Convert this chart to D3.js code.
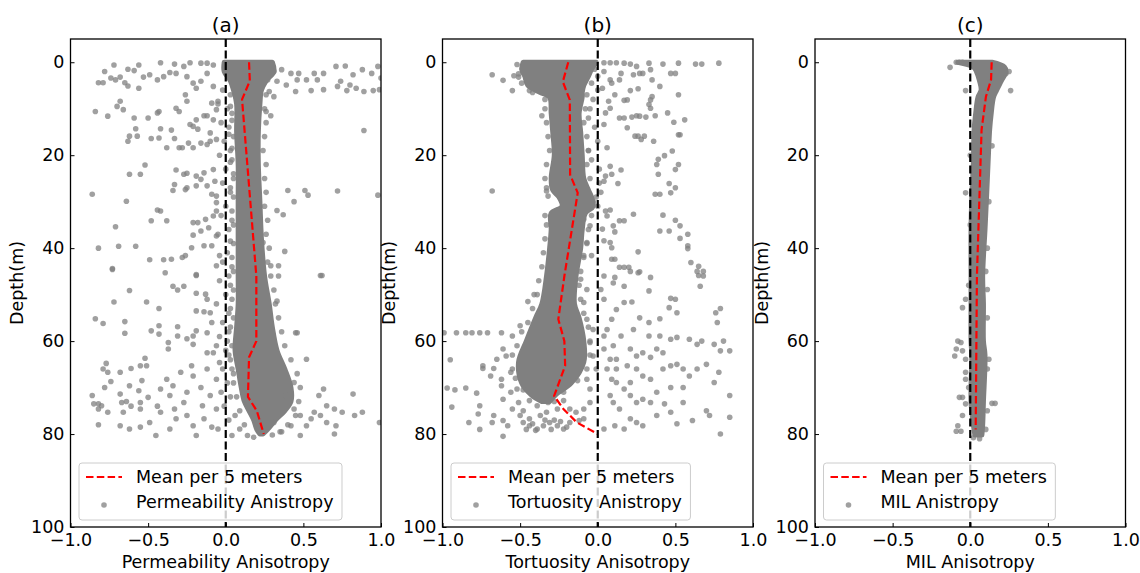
<!DOCTYPE html>
<html>
<head>
<meta charset="utf-8">
<script src="https://cdn.jsdelivr.net/npm/d3@7"></script>
<style>
  body { margin: 0; background: #fff; }
  svg { display: block; font-family: "DejaVu Sans", sans-serif; }
</style>
</head>
<body>
<div id="chart"></div>
<script>
// ---- data ----
const depthTicks = [0, 20, 40, 60, 80, 100];
const anisoTicks = [-1, -0.5, 0, 0.5, 1];
const panelTitles = ['(a)', '(b)', '(c)'];
const xLabels = ['Permeability Anisotropy', 'Tortuosity Anisotropy', 'MIL Anisotropy'];
const meanLabel = 'Mean per 5 meters';
const seriesLabels = ['Permeability Anistropy', 'Tortuosity Anistropy', 'MIL Anistropy'];

// mean per 5 m: depth, value
const meanDepthA = [0, 4, 8, 46, 60, 63.5, 72, 75, 80];
const meanA = [0.15, 0.155, 0.105, 0.197, 0.197, 0.15, 0.143, 0.2, 0.245];
const meanDepthB = [0, 4.2, 8.1, 24.2, 28.1, 46, 55.3, 60, 65.3, 71.8, 74.6, 77.5, 80];
const meanB = [-0.19, -0.225, -0.18, -0.178, -0.129, -0.215, -0.254, -0.215, -0.21, -0.281, -0.221, -0.135, 0.0];
const meanDepthC = [0, 3.8, 7.4, 14.5, 46, 79];
const meanC = [0.138, 0.134, 0.101, 0.073, 0.043, 0.035];

// dense core of the point cloud: [depth, low, high]
const coreA = [[0,-0.01,0.3],[2,-0.01,0.31],[4,0.03,0.26],[6,0.05,0.23],[9,0.07,0.22],[15,0.07,0.21],[22,0.08,0.21],[30,0.08,0.22],[38,0.08,0.23],[46,0.08,0.25],[52,0.08,0.28],[57,0.07,0.3],[62,0.06,0.33],[66,0.08,0.38],[70,0.1,0.42],[73,0.12,0.42],[75,0.15,0.38],[77,0.18,0.32],[79,0.2,0.27],[80,0.22,0.24]];
const coreB = [[0,-0.48,-0.01],[1.5,-0.49,-0.04],[3,-0.47,-0.06],[5,-0.45,-0.09],[6.5,-0.37,-0.1],[7.5,-0.31,-0.1],[11,-0.3,-0.12],[15,-0.29,-0.11],[20,-0.28,-0.1],[25,-0.3,-0.09],[27.5,-0.29,-0.06],[29,-0.25,-0.04],[31,-0.23,-0.03],[32.5,-0.3,-0.08],[36,-0.3,-0.1],[40,-0.31,-0.11],[46,-0.33,-0.14],[52,-0.36,-0.15],[55,-0.4,-0.12],[60,-0.46,-0.09],[64.5,-0.51,-0.09],[69,-0.49,-0.17],[71.5,-0.43,-0.27],[73,-0.36,-0.31]];
const coreC = [[0,-0.08,0.14],[1,0.02,0.22],[2,0.04,0.23],[4,0.06,0.2],[6,0.07,0.17],[7.5,0.05,0.15],[11,0.035,0.135],[14.5,0.025,0.125],[21.5,0.02,0.115],[29,0.01,0.105],[36,0.005,0.095],[46,0.005,0.08],[52,0.005,0.085],[60,0.005,0.085],[63,0.01,0.095],[73,0.005,0.085],[78,0.02,0.08],[80.2,0.03,0.075]];

// scattered points: [value, depth]
const pointsA = [
[-0.72,0.6],[-0.56,0.6],[-0.42,0.1],[-0.33,0.4],[-0.23,0.1],[-0.16,0.2],[-0.12,0.2],[-0.08,0.6],
[-0.78,2.0],[-0.82,4.4],[-0.79,4.4],[-0.74,3.4],[-0.71,3.8],[-0.68,3.2],[-0.65,4.4],[-0.63,1.5],[-0.59,1.8],[-0.53,3.2],[-0.49,2.7],[-0.44,3.8],[-0.40,3.1],[-0.36,2.2],[-0.32,2.4],[-0.27,0.9],[-0.25,3.1],[-0.21,4.5],[-0.16,4.1],[-0.12,2.4],[-0.19,5.6],[-0.08,5.2],[-0.56,5.6],[-0.63,5.1],
[0.31,2.0],[0.36,1.6],[0.42,2.4],[0.47,2.4],[0.52,3.8],[0.57,2.4],[0.63,2.4],[0.71,0.9],[0.77,0.8],[0.82,2.7],[0.88,1.6],[0.94,2.4],[0.98,0.9],[1.0,3.4],[0.33,4.1],[0.39,4.9],[0.45,6.3],[0.55,6.1],[0.63,5.9],[0.72,5.2],[0.78,6.1],[0.84,5.6],[0.89,6.3],[0.95,6.1],[0.99,5.9],[0.27,3.8],[0.46,3.8],[0.59,3.8],[0.74,4.1],[0.80,4.9],
[-0.84,10.6],[-0.76,11.6],[-0.70,9.5],[-0.68,8.4],[-0.66,10.2],[-0.59,12.0],[-0.50,12.0],[-0.44,10.9],[-0.43,10.6],[-0.32,9.9],[-0.30,10.6],[-0.25,8.4],[-0.26,7.0],
[-0.58,14.3],[-0.62,15.9],[-0.63,17.0],[-0.57,15.9],[-0.48,16.4],[-0.43,16.3],[-0.42,14.3],[-0.35,14.6],[-0.33,16.4],[-0.38,18.4],[-0.30,18.4],[-0.28,18.4],[-0.23,13.4],[-0.21,13.8],[-0.18,14.4],[-0.14,11.5],[-0.12,11.5],[-0.19,12.4],[-0.24,17.4],[-0.21,18.4],[-0.16,17.4],[-0.12,17.7],[-0.10,17.0],[-0.06,16.6],[-0.10,15.2],[-0.08,12.4],[-0.06,10.2],[-0.09,8.8],[-0.05,8.4],
[-0.52,22.1],[-0.62,24.1],[-0.55,24.1],[-0.27,24.1],[-0.25,23.9],[-0.32,23.2],[-0.33,26.3],[-0.34,27.6],[-0.26,27.4],[-0.25,27.0],[-0.19,24.5],[-0.14,23.8],[-0.16,25.2],[-0.19,26.6],[-0.12,26.6],[-0.07,25.6],[-0.08,23.1],[-0.06,28.8],[-0.09,28.4],[-0.06,30.2],
[-0.86,28.4],[-0.64,29.9],[-0.44,31.8],[-0.42,32.0],[-0.48,34.1],[-0.38,34.1],[-0.71,35.4],[-0.21,34.5],[-0.18,34.5],[-0.21,37.2],[-0.16,36.3],[-0.13,33.8],[-0.11,35.6],[-0.08,33.1],[-0.06,32.0],
[-0.82,40.0],[-0.69,39.6],[-0.58,39.6],[-0.22,39.9],[-0.14,39.5],[-0.09,39.5],[-0.06,37.4],
[0.89,14.7],[0.40,27.6],[0.51,27.6],[0.53,28.6],[0.72,27.7],[0.98,28.6],[0.44,30.0],[0.33,31.9],[0.37,32.8],[0.38,40.7],
[-0.73,44.4],[-0.49,42.5],[-0.40,42.5],[-0.35,42.4],[-0.28,42.0],[-0.26,41.6],[-0.19,45.9],[-0.06,43.8],[-0.04,41.6],[0.29,43.8],[0.34,43.8],[0.61,45.9],[0.24,38.8],[0.29,11.5],[0.26,10.6],[0.31,7.4],[0.28,6.3],
[-0.73,44.6],[-0.39,45.3],[-0.19,45.7],[-0.34,48.2],[-0.27,48.2],[-0.31,49.0],[-0.62,49.1],[-0.19,49.7],[-0.13,49.9],[-0.12,51.0],[-0.72,51.6],[-0.51,51.6],[-0.43,53.0],[-0.19,53.5],[-0.14,53.7],[-0.10,53.9],
[-0.84,55.2],[-0.79,56.2],[-0.65,55.8],[-0.65,58.3],[-0.48,57.8],[-0.43,56.7],[-0.43,58.5],[-0.37,60.3],[-0.37,61.7],[-0.31,56.9],[-0.31,58.9],[-0.25,59.5],[-0.21,58.9],[-0.21,60.7],[-0.19,57.8],[-0.12,58.2],[-0.09,56.0],[-0.06,61.0],[-0.08,62.5],[-0.12,62.5],
[-0.52,63.7],[-0.55,65.3],[-0.51,65.3],[-0.61,65.9],[-0.68,66.7],[-0.77,64.8],[-0.79,66.0],[-0.76,66.7],[-0.74,68.7],[-0.78,70.0],[-0.86,71.7],[-0.85,73.5],[-0.82,73.5],[-0.82,74.6],[-0.80,73.9],[-0.76,75.3],[-0.68,71.4],[-0.67,73.2],[-0.66,75.3],[-0.64,73.0],[-0.62,69.6],[-0.61,74.0],[-0.56,70.7],[-0.55,73.2],[-0.55,74.6],[-0.54,68.5],[-0.50,72.1],[-0.49,77.5],[-0.55,78.5],[-0.62,78.9],[-0.68,78.2],[-0.82,78.0],[-0.45,80.3],[-0.44,74.0],[-0.42,70.3],[-0.42,75.3],[-0.38,68.2],[-0.36,71.7],[-0.34,69.6],[-0.33,74.6],[-0.32,76.7],[-0.36,78.9],[-0.29,66.7],[-0.27,73.2],[-0.25,71.0],[-0.25,76.0],[-0.22,65.3],[-0.21,67.5],[-0.21,78.2],[-0.19,80.3],[-0.16,70.0],[-0.15,73.9],[-0.14,76.7],[-0.12,66.0],[-0.10,71.7],[-0.09,78.5],[-0.06,68.2],[-0.06,74.6],[-0.05,78.9],[-0.04,64.6],[-0.03,71.0],
[0.04,80.3],[0.09,78.9],[0.14,80.3],[0.18,80.7],[0.52,78.2],[0.48,80.3],[0.57,75.3],[0.60,71.7],[0.63,70.3],[0.65,73.9],[0.70,74.6],[0.71,78.2],[0.75,75.3],[0.70,80.0],[0.82,71.4],[0.83,76.0],[0.88,75.3],[0.99,77.5],[0.52,63.9],[0.44,68.9],[0.45,58.2],[0.46,58.2],[0.33,51.4],[0.34,46.0],[0.62,45.9],[0.39,71.7],[0.44,74.6],[0.48,76.0],[0.42,78.2],[0.35,79.5],[0.31,77.5],[0.55,76.7],[0.61,76.0],[0.65,77.5],
[-0.02,6],[0.03,7],[-0.05,9],[0.01,10],[0.04,11],[-0.03,13],[0.02,14],[0.05,16],[-0.01,17],[0.03,19],[-0.04,20],[0.04,21],[0.0,23],[0.05,24],[-0.02,26],[0.03,27],[0.05,29],[0.0,31],[-0.03,33],[0.04,34],[0.02,36],[-0.05,37],[0.05,39],[0.01,41],[-0.02,43],[0.04,44],[0.02,46],[-0.04,47],[0.05,49],[0.0,50],[-0.06,52],[0.03,53],[0.05,55],[-0.02,56],[0.02,58],[-0.04,59],[0.04,61],[0.0,62],[0.03,64],[-0.02,66],[0.05,67],[0.01,69],[0.03,72],[-0.01,74],[0.06,76],[0.02,77],
[0.03,9.5],[0.04,12.5],[0.02,15.5],[0.04,18.5],[0.03,21.5],[0.05,25],[0.03,28],[0.04,32],[0.05,35],[0.03,38.5],[0.04,42],[0.05,45],[0.03,48],[0.04,51],[0.02,54],[0.03,57],[0.01,60],[0.02,63],[0.04,66],[0.05,69],[0.07,72],[0.09,75],[0.12,78],
[0.26,7],[0.25,10],[0.26,13],[0.25,16],[0.24,19],[0.26,22],[0.25,25],[0.26,28],[0.25,31],[0.27,34],[0.26,37],[0.28,40],[0.27,43],[0.29,46],[0.31,49],[0.32,52],[0.34,55],[0.36,58],[0.38,61],[0.42,64],[0.46,67],[0.48,70],[0.47,73],[0.45,76],[0.40,78],[0.36,79.5],[0.30,80.2]
];

const pointsB = [
[-0.68,2.7],[-0.61,3.9],[-0.55,6.1],[-0.54,2.9],[-0.51,3.2],[-0.44,6.1],[-0.36,11.5],[-0.68,27.7],[-0.33,27.7],[-0.32,28.8],
[0.04,0.1],[0.08,0.1],[0.12,0.1],[0.17,0.2],[0.21,0.4],[0.25,0.9],[0.33,0.2],[0.42,0.4],[0.52,0.2],[0.63,0.4],[0.67,0.4],[0.78,0.2],
[0.04,2.0],[0.08,3.8],[0.03,5.6],[0.09,4.5],[0.14,3.8],[0.15,2.4],[0.23,2.7],[0.27,2.4],[0.29,2.4],[0.34,1.6],[0.35,3.8],[0.47,2.4],[0.50,2.4],[0.40,5.2],[0.26,5.7],[0.21,6.1],[0.11,7.0],[0.17,8.2],[0.19,8.1],[0.34,8.1],[0.35,7.4],[0.52,7.0],[0.07,8.4],[0.08,9.9],[0.05,10.9],[0.04,13.4],[0.14,12.0],[0.17,12.0],[0.22,11.8],[0.25,11.5],[0.27,11.6],[0.31,11.8],[0.33,9.1],[0.34,9.9],[0.37,11.5],[0.45,10.9],[0.49,12.9],[0.56,12.4],[0.52,15.6],[0.53,15.6],[0.19,14.1],[0.24,15.9],[0.26,15.9],[0.28,16.6],[0.30,15.9],[0.36,17.0],[0.43,20.1],[0.48,19.1],[0.39,20.9],[0.38,22.0],[0.52,22.0],[0.50,23.1],[0.08,22.4],[0.09,24.1],[0.06,18.4],[0.15,23.2],[0.05,24.5],[0.04,25.6],[0.13,26.1],[0.39,24.1],[0.46,26.1],[0.50,27.0],[0.37,28.4],[0.40,28.4],[0.47,28.1],
[0.08,31.8],[0.05,32.0],[0.14,34.1],[0.17,34.1],[0.23,32.7],[0.10,35.2],[0.11,36.5],[0.42,32.9],[0.50,34.0],[0.53,35.2],[0.58,37.0],[0.40,36.3],[0.46,36.3],[0.53,37.9],[0.26,40.8],[0.58,40.1],[0.58,39.5],[0.08,38.8],[0.09,39.9],[0.09,42.4],[0.11,42.4],[-0.04,41.6],[-0.09,41.6],[0.14,44.1],[0.17,44.1],[0.20,44.1],[0.27,45.1],[0.34,46.3],[0.60,43.1],[0.65,43.9],[0.68,45.0],[0.65,45.9],[0.11,46.3],[0.06,33.1],[0.03,35.9],[0.04,38.4],[-0.05,35.2],[-0.07,38.8],[-0.12,37.4],[-0.09,33.8],
[-0.05,10],[-0.02,14],[0.0,17],[-0.04,21],[0.01,26],[-0.03,30],[0.02,28],[-0.06,12],[0.0,6],[-0.03,8],[-0.06,19],[0.01,23],[-0.02,1.5],[0.0,3],[-0.04,4.5],
[-0.99,58.2],[-0.91,58.2],[-0.85,58.2],[-0.81,58.2],[-0.76,58.2],[-0.71,58.2],[-0.62,58.2],[-0.55,58.9],[-0.95,64.0],[-0.97,70.1],[-0.92,70.5],[-0.85,70.1],[-0.94,74.2],[-0.83,77.5],[-0.76,79.0],
[-0.74,65.3],[-0.74,65.9],[-0.78,71.2],[-0.76,73.9],[-0.77,75.7],[-0.68,77.5],[-0.67,76.0],[-0.69,67.5],[-0.67,65.9],[-0.65,63.9],[-0.61,61.7],[-0.59,63.2],[-0.62,68.2],[-0.62,69.6],[-0.61,72.5],[-0.61,77.1],[-0.61,80.5],[-0.56,66.7],[-0.56,71.0],[-0.55,74.6],[-0.58,78.2],[-0.52,70.3],[-0.51,73.2],[-0.50,76.0],[-0.45,51.5],[-0.50,56.7],[-0.41,50.0],
[-0.48,77.5],[-0.44,78.2],[-0.39,78.9],[-0.35,78.2],[-0.31,77.5],[-0.26,78.2],[-0.22,78.9],[-0.18,77.5],[-0.44,76.7],[-0.37,76.0],[-0.33,75.3],[-0.48,75.0],[-0.44,72.8],[-0.39,73.9],[-0.32,73.2],[-0.40,79.2],[-0.30,79.0],[-0.28,77.0],[-0.42,77.8],[-0.34,77.0],[-0.24,77.3],[-0.20,78.5],[-0.46,79.0],
[-0.26,74.6],[-0.22,72.8],[-0.18,74.6],[-0.14,75.3],[-0.09,74.6],[-0.09,76.7],[-0.12,77.1],[-0.05,73.2],[-0.05,70.3],[-0.07,68.2],[-0.01,66.0],[-0.03,63.2],[-0.05,60.3],[-0.03,57.5],[-0.07,55.3],[-0.09,51.7],[-0.07,48.9],[-0.11,46.7],
[0.04,61.7],[0.06,66.0],[0.09,68.2],[0.08,71.7],[0.10,73.2],[0.14,74.6],[0.11,78.2],[0.17,78.9],[0.04,78.9],
[0.17,48.2],[0.22,51.6],[0.27,55.0],[0.33,56.0],[0.40,55.2],[0.47,50.8],[0.50,51.0],[0.46,52.8],[0.51,53.9],[0.77,56.0],[0.76,53.9],[0.79,53.0],[0.66,48.2],[0.68,46.0],[0.64,45.0],[0.26,45.3],[0.33,49.2],[0.21,45.0],[0.10,47.5],[0.17,51.7],
[0.15,58.9],[0.21,61.7],[0.25,63.2],[0.29,62.5],[0.34,63.5],[0.38,61.7],[0.42,62.5],[0.47,59.6],[0.51,59.2],[0.40,58.9],[0.33,58.9],[0.59,59.6],[0.64,60.7],[0.67,60.0],[0.75,60.7],[0.81,60.0],[0.85,62.1],[0.79,62.1],[0.78,66.7],[0.75,68.9],[0.85,71.7],[0.85,76.4],[0.79,80.0],[0.72,76.0],[0.70,75.0],[0.61,77.1],[0.51,77.8],[0.47,75.3],[0.43,73.5],[0.38,76.0],[0.29,78.2],[0.25,77.5],[0.21,76.7],[0.25,73.2],[0.21,71.7],[0.17,70.3],[0.12,68.9],[0.21,68.9],[0.29,67.5],[0.34,68.2],[0.42,66.0],[0.47,65.3],[0.51,65.0],[0.55,66.0],[0.59,67.5],[0.64,66.0],[0.70,65.0],[0.55,70.0],[0.47,70.0],[0.38,71.0],[0.34,73.2],[0.29,72.5],[0.55,73.2],[0.12,66.0],[0.19,65.3],[0.25,66.0],[0.12,63.9],[0.08,63.9],[0.10,61.0],[0.04,58.9],[0.06,57.5],[0.09,55.3],[0.12,53.2],[0.04,51.0],[0.02,48.9],[0.04,46.0],[0.23,57.5],
[-0.52,0.5],[-0.51,2.5],[-0.49,4.5],[-0.42,6.5],[-0.34,8],[-0.34,10],[-0.33,13],[-0.32,16],[-0.31,19],[-0.33,22],[-0.34,25],[-0.33,27],[-0.34,33],[-0.33,35],[-0.34,38],[-0.35,41],[-0.36,44],[-0.38,47],[-0.39,50],[-0.42,53],[-0.45,56],[-0.49,58],[-0.52,61],[-0.55,63],[-0.55,66],[-0.53,68],[-0.48,70.5],
[-0.07,7],[-0.08,10],[-0.09,13],[-0.07,16],[-0.06,19],[-0.07,22],[-0.05,25],[-0.01,29],[0.0,31],[-0.04,33],[-0.06,36],[-0.07,39],[-0.09,42],[-0.11,45],[-0.12,48],[-0.11,51],[-0.09,54],[-0.06,57],[-0.05,60],[-0.05,63],[-0.07,66],[-0.13,68.5],[-0.22,71],[-0.28,73]
];

const pointsC = [
[-0.13,1.1],[-0.03,6.1],[0.26,6.1],[-0.03,28.1],[0.23,2.4],[0.25,2.0],[-0.09,0.0],[-0.07,0.0],[-0.05,0.0],
[-0.05,52.8],[-0.03,51.0],[-0.08,60.0],[-0.06,60.3],[-0.09,61.7],[-0.10,63.2],[-0.05,62.1],[-0.03,63.9],[-0.03,66.7],[-0.03,68.2],[-0.07,72.1],[-0.05,72.1],[-0.03,73.5],[-0.05,76.0],[-0.08,78.2],[-0.09,79.4],[-0.06,79.4],[0.14,73.4],[0.16,73.4],[0.12,63.9],[0.11,48.9],[0.10,45.0],
[0.0,20],[0.14,18],[0.0,35],[0.12,30],[0.11,40],[-0.01,48],[0.11,55],[0.11,66],[-0.01,70],[0.11,75],[0.1,79],[0.02,80.8],[0.06,81]
];

// ---- layout ----
const width = 1140;
const height = 573;
const plotTop = 39;
const plotBottom = 527;
const panelLeft = [70.5, 442.5, 815];
const panelWidth = 310.5;
const fontSize = 17.5;
const grey = '#808080';

const panels = [
  { core: coreA, points: pointsA, meanDepth: meanDepthA, mean: meanA },
  { core: coreB, points: pointsB, meanDepth: meanDepthB, mean: meanB },
  { core: coreC, points: pointsC, meanDepth: meanDepthC, mean: meanC },
];

const svg = d3.select('#chart')
  .append('svg')
  .attr('width', width)
  .attr('height', height);

const y = d3.scaleLinear().domain([-5, 100]).range([plotTop, plotBottom]);

panels.forEach((p, i) => {
  const left = panelLeft[i];
  const x = d3.scaleLinear().domain([-1, 1]).range([left, left + panelWidth]);
  const g = svg.append('g');

  g.append('clipPath').attr('id', `clip${i}`)
    .append('rect')
    .attr('x', left).attr('y', plotTop)
    .attr('width', panelWidth).attr('height', plotBottom - plotTop);

  const plot = g.append('g').attr('clip-path', `url(#clip${i})`);

  // dense part of the cloud
  const area = d3.area()
    .y((d) => y(d[0]))
    .x0((d) => x(d[1]))
    .x1((d) => x(d[2]))
    .curve(d3.curveCatmullRom);

  plot.append('path')
    .datum(p.core)
    .attr('d', area)
    .attr('fill', grey)
    .attr('stroke', grey)
    .attr('stroke-width', 5)
    .attr('stroke-linejoin', 'round');

  // single points
  plot.selectAll('.pt')
    .data(p.points)
    .enter().append('circle')
    .attr('class', 'pt')
    .attr('cx', (d) => x(d[0]))
    .attr('cy', (d) => y(d[1]))
    .attr('r', 2.8)
    .attr('fill', grey)
    .attr('fill-opacity', 0.75);

  // mean line
  const meanPts = p.meanDepth.map((d, k) => [p.mean[k], d]);
  plot.append('path')
    .datum(meanPts)
    .attr('d', d3.line().x((d) => x(d[0])).y((d) => y(d[1])))
    .attr('fill', 'none')
    .attr('stroke', '#ff0000')
    .attr('stroke-width', 2.2)
    .attr('stroke-dasharray', '7.5,3.3');

  // zero line
  plot.append('line')
    .attr('x1', x(0)).attr('x2', x(0))
    .attr('y1', plotTop).attr('y2', plotBottom)
    .attr('stroke', '#000')
    .attr('stroke-width', 2.2)
    .attr('stroke-dasharray', '8,3.5');

  // axes (ticks inward)
  const yAxis = g.append('g')
    .attr('transform', `translate(${left},0)`)
    .call(d3.axisLeft(y).tickValues(depthTicks).tickFormat(d3.format('d')).tickSize(-4).tickPadding(6));
  const xAxis = g.append('g')
    .attr('transform', `translate(0,${plotBottom})`)
    .call(d3.axisBottom(x).tickValues(anisoTicks).tickFormat(d3.format('.1f')).tickSize(-4).tickPadding(6.5));

  [yAxis, xAxis].forEach((ax) => {
    ax.select('.domain').remove();
    ax.selectAll('line').attr('stroke', '#000').attr('stroke-width', 1);
    ax.selectAll('text')
      .attr('fill', '#000')
      .style('font-size', `${fontSize}px`)
      .style('font-family', '"DejaVu Sans", sans-serif');
  });

  // frame
  g.append('rect')
    .attr('x', left).attr('y', plotTop)
    .attr('width', panelWidth).attr('height', plotBottom - plotTop)
    .attr('fill', 'none')
    .attr('stroke', '#000')
    .attr('stroke-width', 1.3);

  // titles and labels
  g.append('text')
    .attr('x', left + panelWidth / 2).attr('y', 32)
    .attr('text-anchor', 'middle')
    .style('font-size', '20px')
    .text(panelTitles[i]);

  g.append('text')
    .attr('x', left + panelWidth / 2).attr('y', 568)
    .attr('text-anchor', 'middle')
    .style('font-size', `${fontSize}px`)
    .text(xLabels[i]);

  g.append('text')
    .attr('transform', `translate(${left - 47.5},${(plotTop + plotBottom) / 2}) rotate(-90)`)
    .attr('text-anchor', 'middle')
    .style('font-size', `${fontSize}px`)
    .text('Depth(m)');

  // legend
  const bx = left + 8.5;
  const leg = g.append('g');
  const box = leg.append('rect')
    .attr('x', bx).attr('y', 463)
    .attr('height', 57)
    .attr('rx', 3)
    .attr('fill', '#fff')
    .attr('fill-opacity', 0.8)
    .attr('stroke', '#cccccc')
    .attr('stroke-width', 1);

  leg.append('line')
    .attr('x1', bx + 7).attr('x2', bx + 43)
    .attr('y1', 477).attr('y2', 477)
    .attr('stroke', '#ff0000')
    .attr('stroke-width', 2.2)
    .attr('stroke-dasharray', '7.5,3.3');

  leg.append('circle')
    .attr('cx', bx + 25).attr('cy', 505)
    .attr('r', 2.8)
    .attr('fill', grey)
    .attr('fill-opacity', 0.75);

  const t1 = leg.append('text')
    .attr('x', bx + 57).attr('y', 483)
    .style('font-size', `${fontSize}px`)
    .text(meanLabel);
  const t2 = leg.append('text')
    .attr('x', bx + 57).attr('y', 508)
    .style('font-size', `${fontSize}px`)
    .text(seriesLabels[i]);

  const tw = Math.max(t1.node().getComputedTextLength(), t2.node().getComputedTextLength());
  box.attr('width', 57 + tw + 8.5);
});
</script>
</body>
</html>
